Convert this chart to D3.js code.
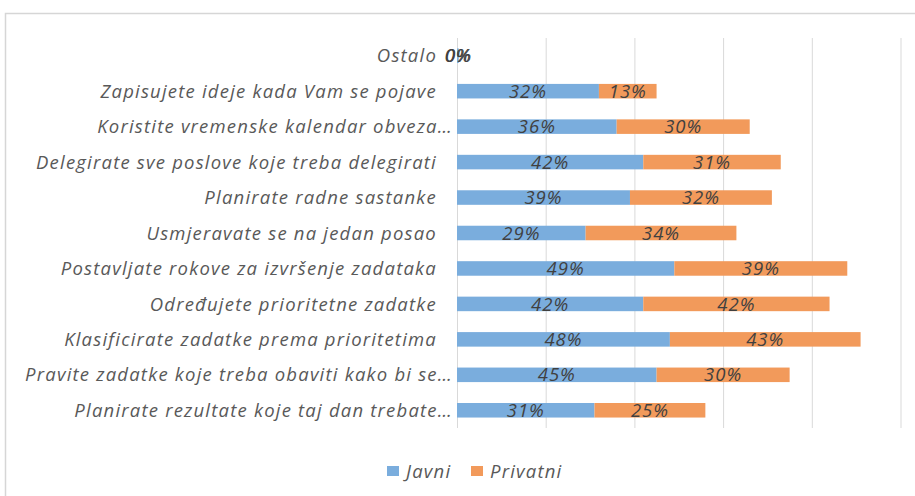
<!DOCTYPE html>
<html>
<head>
<meta charset="utf-8">
<script src="https://cdn.jsdelivr.net/npm/d3@7/dist/d3.min.js"></script>
<style>
  html, body { margin: 0; padding: 0; background: #fff; }
  svg { display: block; }
  text { font-family: "Open Sans", sans-serif; font-style: italic; }
</style>
</head>
<body>
<svg id="chart" width="915" height="496"></svg>
<script>
// Categories, top to bottom
const categories = [
  "Ostalo",
  "Zapisujete ideje kada Vam se pojave",
  "Koristite vremenske kalendar obveza…",
  "Delegirate sve poslove koje treba delegirati",
  "Planirate radne sastanke",
  "Usmjeravate se na jedan posao",
  "Postavljate rokove za izvršenje zadataka",
  "Određujete prioritetne zadatke",
  "Klasificirate zadatke prema prioritetima",
  "Pravite zadatke koje treba obaviti kako bi se…",
  "Planirate rezultate koje taj dan trebate…"
];
const seriesNames = ["Javni", "Privatni"];
// Shares in percent
const javni    = [0.4, 32, 36, 42, 39, 29, 49, 42, 48, 45, 31];
const privatni = [0, 13, 30, 31, 32, 34, 39, 42, 43, 30, 25];
const gridTicks = [0, 20, 40, 60, 80, 100];

const colors = { Javni: "#7aaddd", Privatni: "#f29a5b" };

const svg = d3.select("#chart");
const W = 915, H = 496;

// chart frame
svg.append("rect")
  .attr("x", 5.5).attr("y", 13.5)
  .attr("width", W + 20).attr("height", H + 20)
  .attr("fill", "#fff").attr("stroke", "#d6d6d6").attr("stroke-width", 1.5);

const plot = { left: 457, right: 900.5, top: 38, bottom: 428 };

const x = d3.scaleLinear().domain([0, 100]).range([plot.left, plot.right]);
const y = d3.scaleBand().domain(categories)
  .range([plot.top, plot.bottom])
  .paddingInner(0.59).paddingOuter(0.295);

// vertical gridlines
const grid = svg.append("g")
  .attr("transform", `translate(0,${plot.bottom})`)
  .call(d3.axisBottom(x).tickValues(gridTicks)
    .tickSize(-(plot.bottom - plot.top)).tickFormat(""));
grid.select(".domain").remove();
grid.selectAll(".tick line").attr("stroke", "#d9d9d9").attr("stroke-width", 1);

// stacked data
const rows = categories.map((c, i) => ({ cat: c, Javni: javni[i], Privatni: privatni[i] }));
const stacked = d3.stack().keys(seriesNames)(rows);

const fmt = v => d3.format(".0f")(v) + "%";

const layer = svg.append("g").selectAll("g")
  .data(stacked).join("g")
  .attr("fill", d => colors[d.key]);

layer.selectAll("rect")
  .data(d => d).join("rect")
  .attr("x", d => x(d[0]))
  .attr("y", d => y(d.data.cat))
  .attr("width", d => x(d[1]) - x(d[0]))
  .attr("height", y.bandwidth());

// value labels
const labels = svg.append("g").selectAll("g")
  .data(stacked).join("g");
labels.selectAll("text")
  .data(d => d.map(p => ({ p, key: d.key }))).join("text")
  .attr("x", d => (x(d.p[0]) + x(d.p[1])) / 2)
  .attr("y", d => y(d.p.data.cat) + y.bandwidth() / 2)
  .attr("dy", "0.36em")
  .attr("text-anchor", "middle")
  .attr("font-size", 18.5)
  .attr("letter-spacing", "1px")
  .attr("fill", "#404040")
  .text(d => fmt(d.p.data[d.key]));

// category labels
svg.append("g").selectAll("text")
  .data(categories).join("text")
  .attr("x", d => d.endsWith("…") ? plot.left - 4 : plot.left - 20)
  .attr("y", d => y(d) + y.bandwidth() / 2)
  .attr("dy", "0.36em")
  .attr("text-anchor", "end")
  .attr("font-size", 18.5)
  .attr("letter-spacing", "1.2px")
  .attr("fill", "#595959")
  .text(d => d);

// legend
const legend = svg.append("g").attr("transform", "translate(387,471)");
const items = [{ k: "Javni", dx: 0 }, { k: "Privatni", dx: 84 }];
const li = legend.selectAll("g").data(items).join("g")
  .attr("transform", d => `translate(${d.dx},0)`);
li.append("rect").attr("x", 0).attr("y", -5).attr("width", 12).attr("height", 10)
  .attr("fill", d => colors[d.k]);
li.append("text").attr("x", 19).attr("dy", "0.36em")
  .attr("font-size", 18.5).attr("letter-spacing", "1.2px").attr("fill", "#595959")
  .text(d => d.k);
</script>
</body>
</html>
